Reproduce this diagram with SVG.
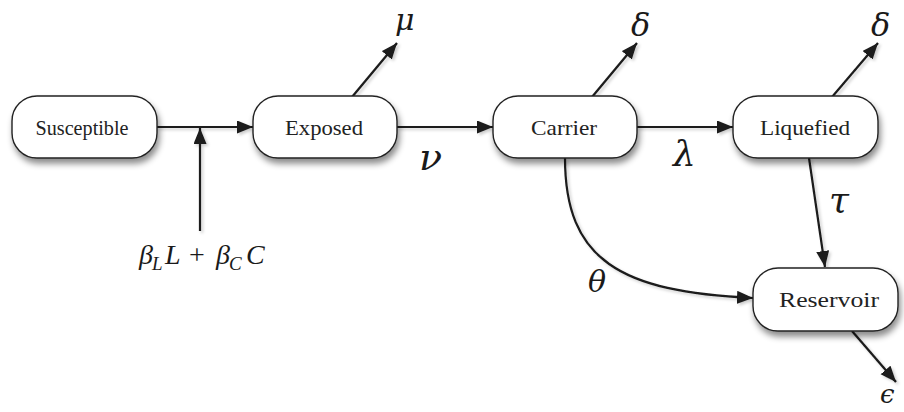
<svg xmlns="http://www.w3.org/2000/svg" width="904" height="412" viewBox="0 0 904 412">
<defs>
  <filter id="sh" x="-20%" y="-30%" width="140%" height="170%">
    <feDropShadow dx="2" dy="5" stdDeviation="3" flood-color="#000" flood-opacity="0.45"/>
  </filter>
  <filter id="lsh" x="-20%" y="-20%" width="140%" height="140%">
    <feDropShadow dx="2" dy="2" stdDeviation="1.5" flood-color="#000" flood-opacity="0.2"/>
  </filter>
  <marker id="ah" markerUnits="userSpaceOnUse" markerWidth="18" markerHeight="14" refX="16" refY="6.5" orient="auto">
    <path d="M0,0 L16,6.5 L0,13 z" fill="#1a1a1a"/>
  </marker>
  <style>
    .node rect { fill: #fff; stroke: #222; stroke-width: 1.4; filter: url(#sh); }
    .node text { font-family: "Liberation Serif", "DejaVu Serif", serif; font-size: 22px; fill: #222; text-anchor: middle; }
    .conn path { fill: none; stroke: #1a1a1a; stroke-width: 2.2; marker-end: url(#ah); }
    .m { font-family: "Liberation Serif", "DejaVu Serif", serif; font-style: italic; fill: #1a1a1a; }
    .g { font-family: "DejaVu Serif", "Liberation Serif", serif; font-style: italic; fill: #1a1a1a; }
  </style>
</defs>
<rect width="904" height="412" fill="#fff"/>

<g id="connectors" class="conn" filter="url(#lsh)">
  <path d="M157,127 L253,127"/>
  <path d="M200,231 L200,128"/>
  <path d="M397,127 L493,127"/>
  <path d="M637,127 L733,127"/>
  <path d="M352,97 L397,43"/>
  <path d="M592,97 L637,43"/>
  <path d="M832,97 L878,43"/>
  <path d="M809,158 L825,267"/>
  <path d="M565,158 C565,260 620,292 753,298"/>
  <path d="M852,331 L896,382"/>
</g>

<g id="susceptible" class="node">
  <rect x="12" y="96" width="145" height="62" rx="25"/>
  <text x="82" y="135" font-size="20" textLength="93" lengthAdjust="spacingAndGlyphs">Susceptible</text>
</g>
<g id="exposed" class="node">
  <rect x="253" y="96" width="144" height="62" rx="25"/>
  <text x="324" y="135" textLength="78" lengthAdjust="spacingAndGlyphs">Exposed</text>
</g>
<g id="carrier" class="node">
  <rect x="493" y="96" width="144" height="62" rx="25"/>
  <text x="564" y="135" textLength="66" lengthAdjust="spacingAndGlyphs">Carrier</text>
</g>
<g id="liquefied" class="node">
  <rect x="733" y="96" width="145" height="62" rx="25"/>
  <text x="805" y="135" textLength="90" lengthAdjust="spacingAndGlyphs">Liquefied</text>
</g>
<g id="reservoir" class="node">
  <rect x="753" y="268" width="145" height="63" rx="25"/>
  <text x="829" y="307" textLength="100" lengthAdjust="spacingAndGlyphs">Reservoir</text>
</g>

<g id="labels">
  <text class="g" x="395" y="30" font-size="30">μ</text>
  <text class="g" x="419" y="170" font-size="38">ν</text>
  <text class="g" x="631" y="36" font-size="32">δ</text>
  <text class="g" x="871" y="36" font-size="32">δ</text>
  <text class="g" x="673" y="166" font-size="36">λ</text>
  <text class="g" x="829" y="212" font-size="36">τ</text>
  <text class="g" x="588" y="292" font-size="30">θ</text>
  <text class="g" x="880" y="403" font-size="26">ϵ</text>
  <g class="m">
    <text x="139" y="264" font-size="28">β</text>
    <text x="152" y="270" font-size="19">L</text>
    <text x="165" y="264" font-size="28">L</text>
    <text x="189" y="264" font-size="28" font-style="normal">+</text>
    <text x="216" y="264" font-size="28">β</text>
    <text x="229" y="270" font-size="19">C</text>
    <text x="246" y="264" font-size="28">C</text>
  </g>
</g>
</svg>
